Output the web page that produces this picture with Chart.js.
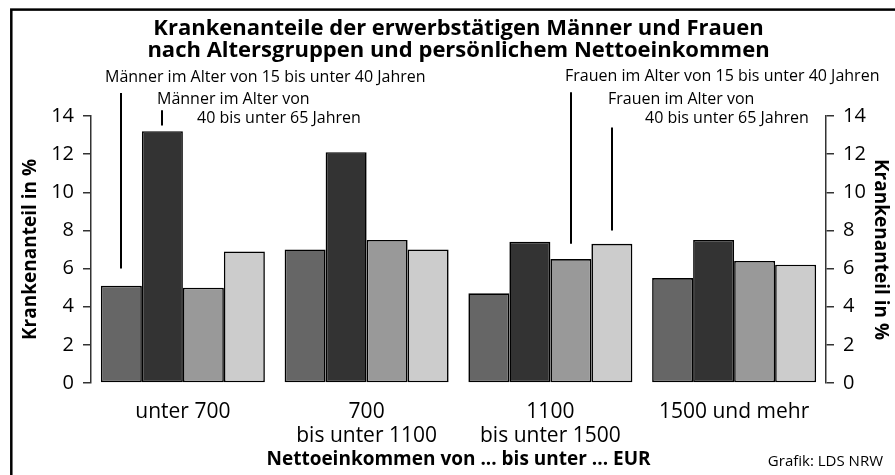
<!DOCTYPE html>
<html>
<head>
<meta charset="utf-8">
<script src="https://cdn.jsdelivr.net/npm/chart.js@4/dist/chart.umd.min.js"></script>
<style>
html, body { margin: 0; padding: 0; background: #fff; }
</style>
</head>
<body>
<canvas id="myChart" width="895" height="475"></canvas>
<script>
// Data
var categories = [['unter 700'], ['700', 'bis unter 1100'], ['1100', 'bis unter 1500'], ['1500 und mehr']];
var seriesNames = [
    'Männer im Alter von 15 bis unter 40 Jahren',
    'Männer im Alter von 40 bis unter 65 Jahren',
    'Frauen im Alter von 15 bis unter 40 Jahren',
    'Frauen im Alter von 40 bis unter 65 Jahren'
];
var maenner15to40 = [5.1, 7.0, 4.7, 5.5];
var maenner40to65 = [13.2, 12.1, 7.4, 7.5];
var frauen15to40  = [5.0, 7.5, 6.5, 6.4];
var frauen40to65  = [6.9, 7.0, 7.3, 6.2];
var yTickValues   = [0, 2, 4, 6, 8, 10, 12, 14];

var titleLines = ['Krankenanteile der erwerbstätigen Männer und Frauen',
                  'nach Altersgruppen und persönlichem Nettoeinkommen'];
var yTitle = 'Krankenanteil in %';
var xTitle = 'Nettoeinkommen von ... bis unter ... EUR';
var source = 'Grafik: LDS NRW';

Chart.defaults.font.family = "'Open Sans', sans-serif";
Chart.defaults.color = '#000';

var ctx = document.getElementById('myChart');

function bar(label, data, color) {
    return {
        label: label,
        data: data,
        backgroundColor: color,
        borderColor: '#000',
        borderWidth: 1.6,
        borderSkipped: false,
        barPercentage: 1,
        categoryPercentage: 0.8925
    };
}

// frame round the graphic
var framePlugin = {
    id: 'frame',
    beforeDraw: function(chart) {
        var c = chart.ctx;
        c.save();
        c.fillStyle = '#fff';
        c.fillRect(0, 0, chart.width, chart.height);
        c.strokeStyle = '#000';
        c.lineWidth = 2.5;
        c.strokeRect(11.3, 9.6, chart.width + 50, chart.height + 50);
        c.restore();
    }
};

// leader lines and labels for the series
var notesPlugin = {
    id: 'notes',
    afterDraw: function(chart) {
        var c = chart.ctx;
        var y = chart.scales.y;
        var leaders = [
            [0, 0, 15.2, 6.0],
            [1, 0, 14.3, 13.5],
            [2, 2, 15.25, 7.3],
            [3, 2, 13.4, 8.0]
        ];
        c.save();
        c.strokeStyle = '#000';
        c.lineWidth = 2;
        leaders.forEach(function(l) {
            var el = chart.getDatasetMeta(l[0]).data[l[1]];
            c.beginPath();
            c.moveTo(Math.round(el.x), y.getPixelForValue(l[2]));
            c.lineTo(Math.round(el.x), y.getPixelForValue(l[3]));
            c.stroke();
        });

        c.fillStyle = '#000';
        c.textBaseline = 'middle';
        c.font = "16px 'Open Sans'";
        c.textAlign = 'left';
        c.fillText(seriesNames[0], 105, 77);
        c.fillText('Männer im Alter von', 157, 99);
        c.fillText('40 bis unter 65 Jahren', 197, 118);
        c.fillText(seriesNames[2], 565, 76);
        c.fillText('Frauen im Alter von', 608, 99);
        c.fillText('40 bis unter 65 Jahren', 645, 118);

        c.font = "15px 'Open Sans'";
        c.textAlign = 'right';
        c.fillText(source, 883, 462);
        c.restore();
    }
};

var myChart = new Chart(ctx, {
    type: 'bar',
    data: {
        labels: categories,
        datasets: [
            bar(seriesNames[0], maenner15to40, '#666666'),
            bar(seriesNames[1], maenner40to65, '#333333'),
            bar(seriesNames[2], frauen15to40, '#999999'),
            bar(seriesNames[3], frauen40to65, '#cccccc')
        ]
    },
    options: {
        responsive: false,
        animation: false,
        devicePixelRatio: 1,
        layout: { padding: 0 },
        plugins: {
            legend: { display: false },
            tooltip: { enabled: false },
            title: {
                display: true,
                text: titleLines,
                fullSize: false,
                font: { size: 22, weight: 'bold', lineHeight: 1.0 },
                padding: { top: 18, bottom: 54 }
            }
        },
        scales: {
            x: {
                grid: { display: false },
                border: { display: false },
                ticks: {
                    autoSkip: false,
                    maxRotation: 0,
                    padding: 9,
                    font: { size: 21, lineHeight: 1.13 }
                },
                title: {
                    display: true,
                    text: xTitle,
                    font: { size: 19, weight: 'bold', lineHeight: 1.2 },
                    padding: { top: 0, bottom: 4 }
                },
                afterFit: function(s) { s.height = 92; }
            },
            y: {
                position: 'left',
                min: 0,
                max: 14,
                afterBuildTicks: function(s) { s.ticks = yTickValues.map(function(v) { return { value: v }; }); },
                grid: { drawOnChartArea: false, tickLength: 8, color: '#333', lineWidth: 1.5 },
                border: { color: '#333', width: 1.5 },
                ticks: { padding: 9, font: { size: 20 } },
                title: {
                    display: true,
                    text: yTitle,
                    font: { size: 19, weight: 'bold', lineHeight: 1.2 },
                    padding: { top: 19, bottom: 0 }
                },
                afterFit: function(s) { s.width = 91; }
            },
            y2: {
                position: 'right',
                display: true,
                min: 0,
                max: 14,
                afterBuildTicks: function(s) { s.ticks = yTickValues.map(function(v) { return { value: v }; }); },
                grid: { drawOnChartArea: false, tickLength: 8, color: '#333', lineWidth: 1.5 },
                border: { color: '#333', width: 1.5 },
                ticks: { padding: 9, font: { size: 20 } },
                title: {
                    display: true,
                    text: yTitle,
                    font: { size: 19, weight: 'bold', lineHeight: 1.2 },
                    padding: { top: 3, bottom: 0 }
                },
                afterFit: function(s) { s.width = 69; }
            }
        }
    },
    plugins: [framePlugin, notesPlugin]
});
</script>
</body>
</html>
